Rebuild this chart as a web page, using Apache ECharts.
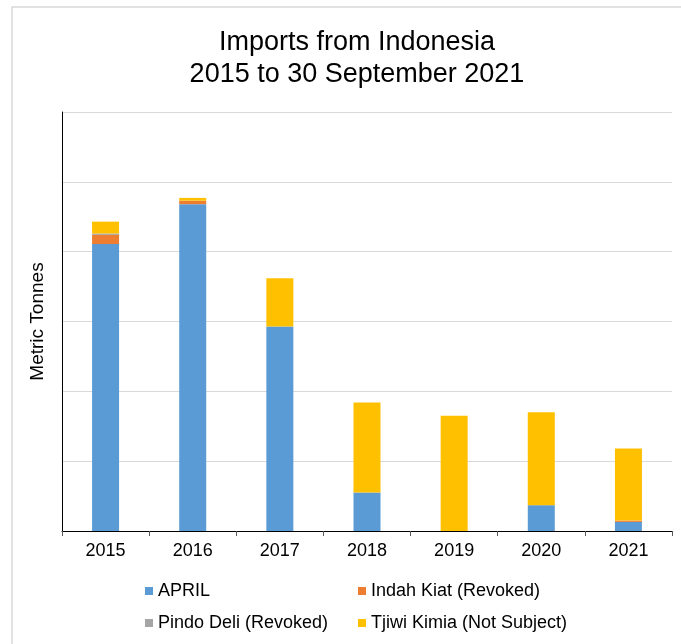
<!DOCTYPE html>
<html>
<head>
<meta charset="utf-8">
<script src="https://cdn.jsdelivr.net/npm/echarts@6/dist/echarts.min.js"></script>
<style>html,body{margin:0;padding:0;background:#fff;}#chart{width:681px;height:644px;}</style>
</head>
<body>
<div id="chart"></div>
<script>
const categories = ['2015', '2016', '2017', '2018', '2019', '2020', '2021'];
const april      = [4.11, 4.68, 2.93, 0.55, 0.00, 0.37, 0.13];
const indahKiat  = [0.13, 0.05, 0.00, 0.00, 0.00, 0.00, 0.02];
const pindoDeli  = [0.02, 0.00, 0.00, 0.00, 0.00, 0.00, 0.00];
const tjiwiKimia = [0.17, 0.04, 0.69, 1.29, 1.65, 1.33, 1.03];
const seriesNames = ['APRIL', 'Indah Kiat (Revoked)', 'Pindo Deli (Revoked)', 'Tjiwi Kimia (Not Subject)'];
const seriesColors = ['#5B9BD5', '#ED7D31', '#A5A5A5', '#FFC000'];
const seriesData = [april, indahKiat, pindoDeli, tjiwiKimia];

const font = 'Liberation Sans, Arial, sans-serif';
const chart = echarts.init(document.getElementById('chart'));

const legendPos = [
  {left: 145, top: 582},
  {left: 358, top: 582},
  {left: 145, top: 614},
  {left: 358, top: 614}
];

chart.setOption({
  animation: false,
  backgroundColor: '#fff',
  title: {
    text: 'Imports from Indonesia\n2015 to 30 September 2021',
    left: 352,
    textAlign: 'center',
    top: 22,
    textStyle: {fontFamily: font, fontSize: 27, fontWeight: 'normal', color: '#000', lineHeight: 32}
  },
  graphic: [{
    type: 'rect',
    shape: {x: 12, y: 7, width: 800, height: 800},
    style: {fill: 'none', stroke: '#d9d9d9', lineWidth: 1.5},
    silent: true, z: -1
  }],
  legend: seriesNames.map((n, i) => ({
    data: [n],
    left: legendPos[i].left,
    top: legendPos[i].top,
    padding: 0,
    icon: 'rect',
    itemWidth: 8,
    itemHeight: 8,
    selectedMode: false,
    textStyle: {fontFamily: font, fontSize: 18, color: '#000'}
  })),
  grid: {left: 62, right: 9, top: 112, bottom: 113, containLabel: false},
  xAxis: {
    type: 'category',
    data: categories,
    axisLine: {lineStyle: {color: '#000', width: 1}},
    axisTick: {show: true, alignWithLabel: false, length: 5, lineStyle: {color: '#595959'}},
    axisLabel: {fontFamily: font, fontSize: 18, color: '#000', margin: 11}
  },
  yAxis: {
    type: 'value',
    min: 0, max: 6, interval: 1,
    name: 'Metric Tonnes',
    nameLocation: 'middle',
    nameGap: 15,
    nameTextStyle: {fontFamily: font, fontSize: 19, color: '#000'},
    axisLine: {show: true, lineStyle: {color: '#000', width: 1}},
    axisTick: {show: false},
    axisLabel: {show: false},
    splitLine: {lineStyle: {color: '#d9d9d9', width: 1}}
  },
  series: seriesNames.map((n, i) => ({
    name: n,
    type: 'bar',
    stack: 'total',
    barWidth: 27,
    data: seriesData[i],
    itemStyle: {color: seriesColors[i], borderWidth: 0}
  }))
});
</script>
</body>
</html>
